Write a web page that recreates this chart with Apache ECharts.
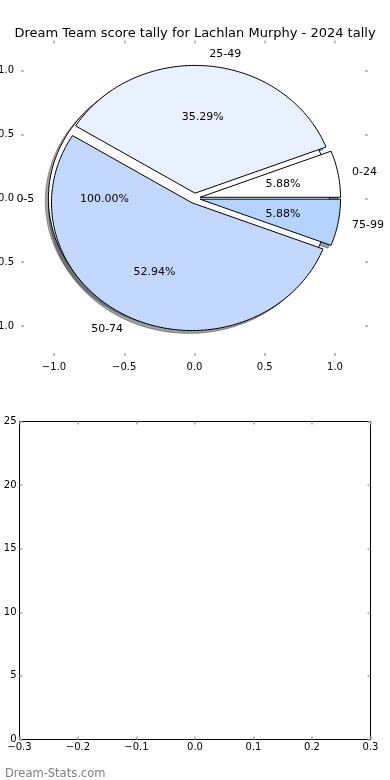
<!DOCTYPE html>
<html>
<head>
<meta charset="utf-8">
<script src="https://cdn.jsdelivr.net/npm/echarts@6/dist/echarts.min.js"></script>
<style>html,body{margin:0;padding:0;background:#fff}#chart{width:390px;height:780px}</style>
</head>
<body>
<div id="chart"></div>
<script>
// ---- data ----
const titleText = 'Dream Team score tally for Lachlan Murphy - 2024 tally';
const categories = ['0-24', '25-49', '50-74', '75-99'];
const counts = [1, 6, 9, 1];
const sliceColors = ['#ffffff', '#eaf1fe', '#c4d8fe', '#b4d3fe'];
const extraCategories = ['0-5'];
const extraCounts = [1];
const extraColors = ['#ffffff'];
const pieTicks = [-1, -0.5, 0, 0.5, 1];
const bottomXTicks = [-0.3, -0.2, -0.1, 0, 0.1, 0.2, 0.3];
const bottomYTicks = [0, 5, 10, 15, 20, 25];
const watermark = 'Dream-Stats.com';

// ---- settings ----
const EXPLODE = 0.04;
const SHADOW = [-0.022, -0.022];
const LIM = 1.235;
const FONT = 'DejaVu Sans';

function buildWedges(vals, names, colors) {
  const total = vals.reduce((a, b) => a + b, 0);
  let cum = 0;
  return vals.map((v, i) => {
    const t1 = cum / total * 360;
    cum += v;
    const t2 = cum / total * 360;
    const mid = (t1 + t2) / 2 * Math.PI / 180;
    return {
      name: names[i], color: colors[i], t1, t2, mid,
      cx: EXPLODE * Math.cos(mid), cy: EXPLODE * Math.sin(mid),
      pct: (v / total * 100).toFixed(2) + '%', full: (t2 - t1) >= 359.999
    };
  });
}
const mainW = buildWedges(counts, categories, sliceColors);
const extraW = buildWedges(extraCounts, extraCategories, extraColors);
const allW = extraW.concat(mainW);

function wedgePoints(api, w, ox, oy) {
  const pts = [];
  const cx = w.cx + ox, cy = w.cy + oy;
  if (!w.full) pts.push(api.coord([cx, cy]));
  const n = Math.max(8, Math.ceil((w.t2 - w.t1) / 1.5));
  for (let k = 0; k <= n; k++) {
    const a = (w.t1 + (w.t2 - w.t1) * k / n) * Math.PI / 180;
    pts.push(api.coord([cx + Math.cos(a), cy + Math.sin(a)]));
  }
  return pts;
}
function shade(hex) {
  const r = parseInt(hex.slice(1, 3), 16), g = parseInt(hex.slice(3, 5), 16), b = parseInt(hex.slice(5, 7), 16);
  return 'rgba(' + Math.round(r * 0.3) + ',' + Math.round(g * 0.3) + ',' + Math.round(b * 0.3) + ',0.5)';
}
function fmt(v, d) { return (v < 0 ? '\u2212' : '') + Math.abs(v).toFixed(d); }

const tickStyle = { show: true, inside: true, length: 3, lineStyle: { color: '#a8a8a8', width: 1.5 } };
const labelStyle = { fontFamily: FONT, fontSize: 10, color: '#000' };

function axisPair(gridIndex, min, max, ticks, dec, isX, showLine, labelMargin) {
  const base = {
    type: 'value', gridIndex, min, max, splitLine: { show: false },
    axisLine: { show: showLine, onZero: false, lineStyle: { color: '#000', width: 1 } },
    axisTick: Object.assign({ customValues: ticks }, tickStyle)
  };
  const a = Object.assign({}, base, {
    position: isX ? 'bottom' : 'left',
    axisLabel: Object.assign({ customValues: ticks, margin: labelMargin, formatter: v => fmt(v, dec), showMinLabel: true, showMaxLabel: true, hideOverlap: false }, labelStyle)
  });
  const b = Object.assign({}, base, {
    position: isX ? 'top' : 'right',
    axisLabel: { show: false }
  });
  return [a, b];
}

const xAxes = [].concat(
  axisPair(0, -LIM, LIM, pieTicks, 1, true, false, 6),
  axisPair(1, -0.3, 0.3, bottomXTicks, 1, true, true, 3)
);
const yAxes = [].concat(
  axisPair(0, -LIM, LIM, pieTicks, 1, false, false, 7),
  axisPair(1, 0, 25, bottomYTicks, 0, false, true, 3)
);
yAxes[2].axisLabel.formatter = v => String(v);

const pieData = allW.map(w => ({ name: w.name, value: [0, 0] }));

const chart = echarts.init(document.getElementById('chart'), null, { renderer: 'canvas' });
chart.setOption({
  animation: false,
  title: [
    { text: titleText, left: 'center', top: 22, textStyle: { fontFamily: FONT, fontSize: 13, fontWeight: 'normal', color: '#000' } },
    { text: watermark, left: 0, top: 763, textStyle: { fontFamily: FONT, fontSize: 11.5, fontWeight: 'normal', color: '#808080' } }
  ],
  grid: [
    { left: 21, right: 22, top: 40.5, bottom: 424, outerBoundsMode: 'none', containLabel: false },
    { left: 19.5, right: 19.5, top: 421.5, bottom: 40.5, outerBoundsMode: 'none', containLabel: false }
  ],
  xAxis: xAxes,
  yAxis: yAxes,
  series: [
    { // shadows
      type: 'custom', xAxisIndex: 0, yAxisIndex: 0, z: 2, silent: true, clip: false,
      data: pieData,
      renderItem: (p, api) => {
        const w = allW[p.dataIndex];
        const c = shade(w.color);
        return { type: 'polygon', shape: { points: wedgePoints(api, w, SHADOW[0], SHADOW[1]) }, style: { fill: c, stroke: c, lineWidth: 1 } };
      }
    },
    { // wedges
      type: 'custom', xAxisIndex: 0, yAxisIndex: 0, z: 3, silent: true, clip: false,
      data: pieData,
      renderItem: (p, api) => {
        const w = allW[p.dataIndex];
        return { type: 'polygon', shape: { points: wedgePoints(api, w, 0, 0) }, style: { fill: w.color, stroke: '#000', lineWidth: 1 } };
      }
    },
    { // labels
      type: 'custom', xAxisIndex: 0, yAxisIndex: 0, z: 4, silent: true, clip: false,
      data: pieData,
      renderItem: (p, api) => {
        const w = allW[p.dataIndex];
        const lx = w.cx + 1.1 * Math.cos(w.mid), ly = w.cy + 1.1 * Math.sin(w.mid);
        const px = w.cx + 0.6 * Math.cos(w.mid), py = w.cy + 0.6 * Math.sin(w.mid);
        const lp = api.coord([lx, ly]), pp = api.coord([px, py]);
        return {
          type: 'group', children: [
            { type: 'text', x: lp[0], y: lp[1] + 0.5, style: { text: w.name, fontFamily: FONT, fontSize: 11, fill: '#000', align: lx > 0 ? 'left' : 'right', verticalAlign: 'middle' } },
            { type: 'text', x: pp[0], y: pp[1] + 0.5, style: { text: w.pct, fontFamily: FONT, fontSize: 11, fill: '#000', align: 'center', verticalAlign: 'middle' } }
          ]
        };
      }
    }
  ]
});
</script>
</body>
</html>
